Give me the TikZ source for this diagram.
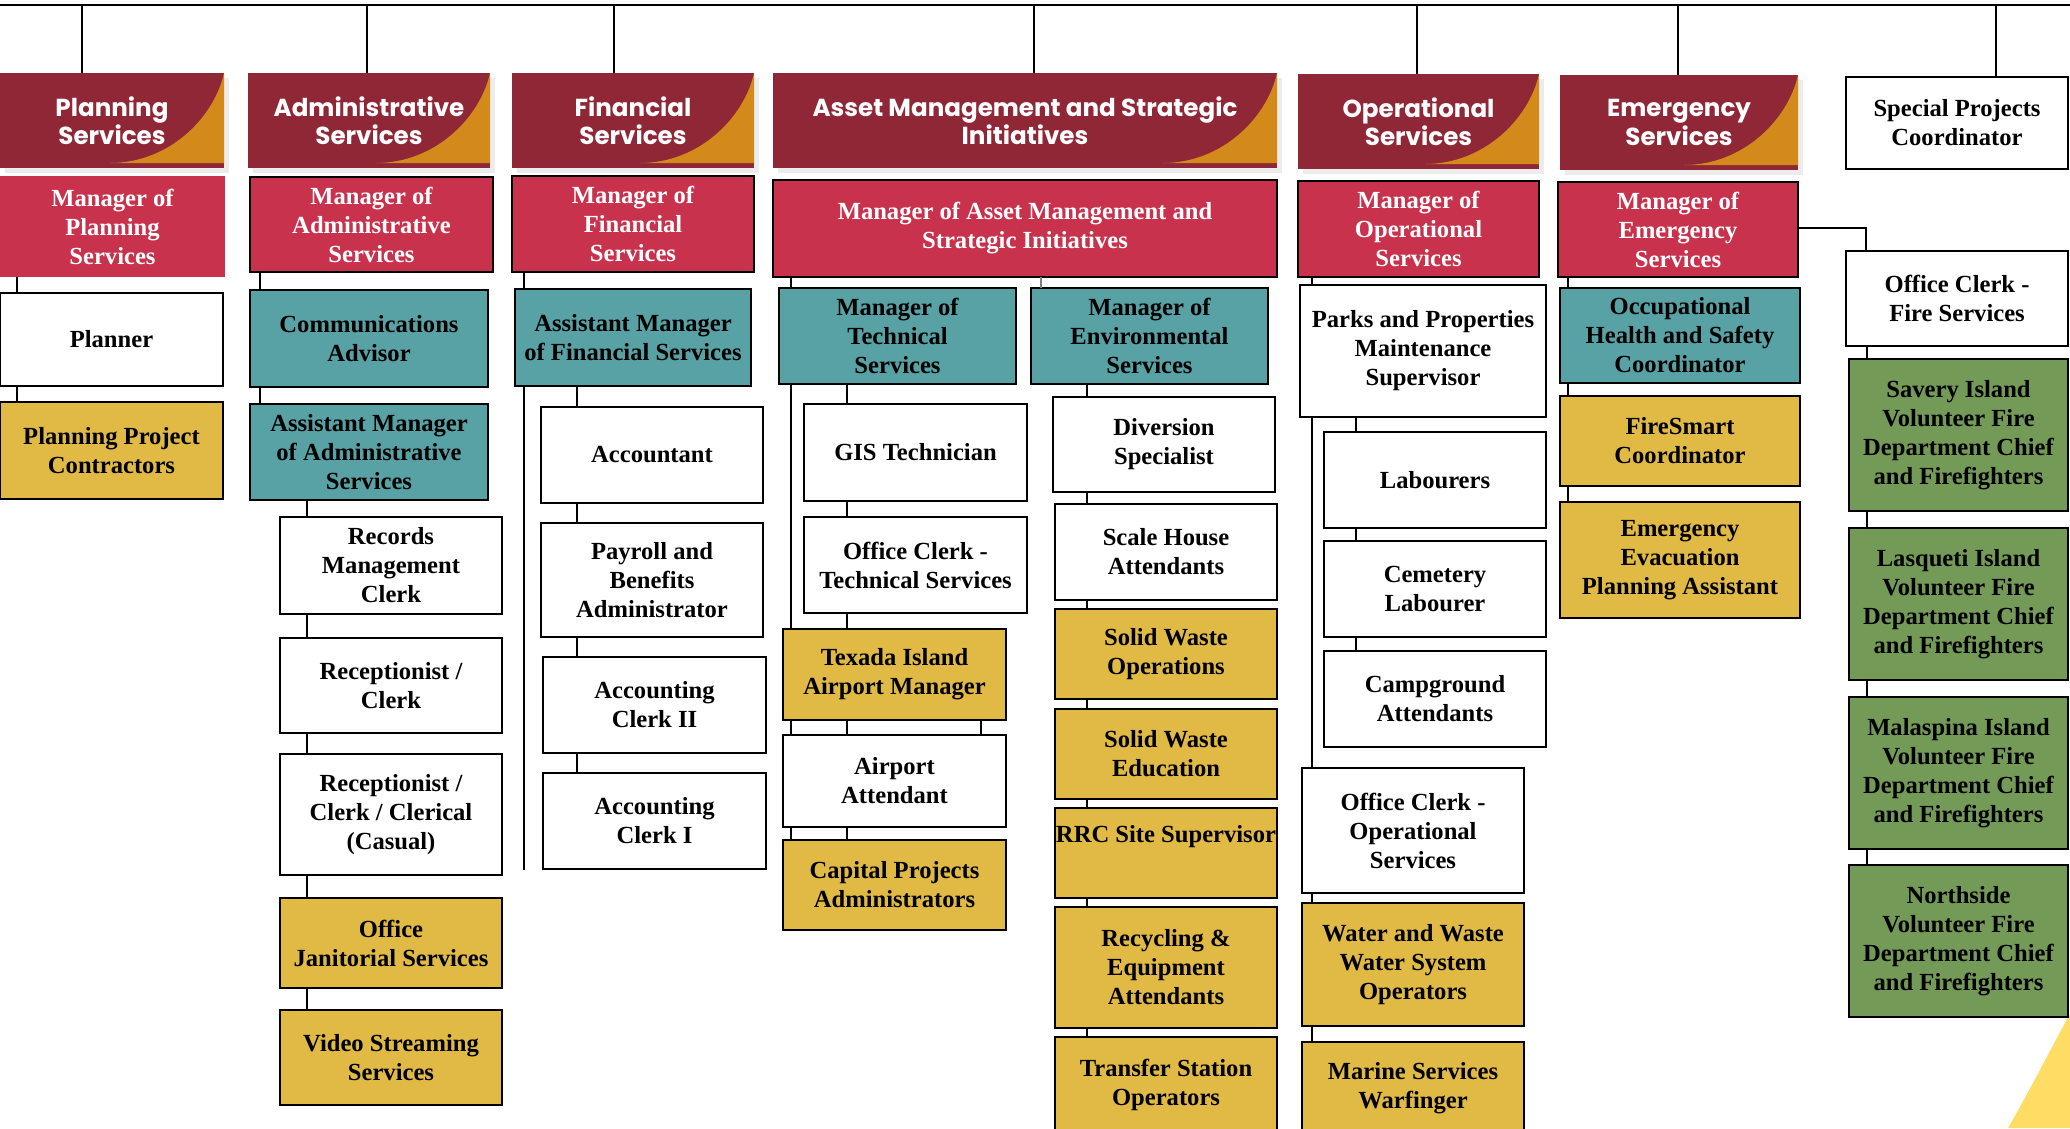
\documentclass[tikz,border=0pt]{standalone}
\usepackage{fontspec}
\setmainfont{Liberation Serif}
\setsansfont{Poppins}
\usepackage{xcolor}
\definecolor{hdrRed}{HTML}{8F2737}
\definecolor{hdrOrange}{HTML}{D38A1A}
\definecolor{mgrRed}{HTML}{C8324C}
\definecolor{teamTeal}{HTML}{58A1A4}
\definecolor{teamGold}{HTML}{E1BA45}
\definecolor{fireGreen}{HTML}{749A57}
\definecolor{cornerYellow}{HTML}{FFDC64}
\usetikzlibrary{shadows}

\tikzset{
  boxat/.style n args={4}{minimum width={(#3-#1)*0.2mm}, minimum height={(#4-#2)*0.2mm},
    at={({(#1+#3)/2},{(#2+#4)/2})}},
  job/.style={rectangle, draw=black, line width=1.4pt, inner sep=0pt, outer sep=0pt, align=center,
    font=\bfseries\fontsize{14}{16.5}\selectfont},
  wbox/.style={job, fill=white},
  tbox/.style={job, fill=teamTeal},
  ybox/.style={job, fill=teamGold},
  gbox/.style={job, fill=fireGreen},
  mgr/.style={job, fill=mgrRed, text=white},
  hdr/.style={rectangle, fill=hdrRed, text=white, inner sep=0pt, outer sep=0pt, align=center,
    font=\sffamily\bfseries\fontsize{14}{16}\selectfont,
    drop shadow={shadow xshift=1mm, shadow yshift=-1mm, opacity=.15},
    path picture={\fill[hdrOrange] (path picture bounding box.north east)
      .. controls ([shift={(-2mm,-9mm)}]path picture bounding box.north east)
      and ([shift={(-11mm,-18mm)}]path picture bounding box.north east)
      .. ([shift={(-22.8mm,-18mm)}]path picture bounding box.north east)
      -- ([yshift=-18mm]path picture bounding box.north east) -- cycle;}},
  conn/.style={draw=black, line width=1.3pt}
}

\begin{document}
\begin{tikzpicture}[x=0.2mm, y=-0.2mm]
  \path[use as bounding box, fill=white] (0,0) rectangle (2070,1128);
  \fill[cornerYellow] (2008,1128) .. controls (2030,1090) and (2050,1050) .. (2072,1010) -- (2072,1128) -- cycle;

  % department headers
  \node[hdr, boxat={0}{73}{224}{168}] (hPlan) {Planning\\Services};
  \node[hdr, boxat={248}{73}{490}{168}] (hAdmin) {Administrative\\Services};
  \node[hdr, boxat={512}{73}{754}{168}] (hFin) {Financial\\Services};
  \node[hdr, boxat={773}{73}{1277}{168}] (hAsset) {Asset Management and Strategic\\Initiatives};
  \node[hdr, boxat={1298}{74}{1539}{169}] (hOper) {Operational\\Services};
  \node[hdr, boxat={1560}{75}{1798}{170}] (hEmer) {Emergency\\Services};
  \node[wbox, boxat={1846}{77}{2068}{169}] (special) {Special Projects\\Coordinator};

  % managers
  \node[mgr, draw=none, boxat={0}{176}{225}{277}] (mPlan) {Manager of\\Planning\\Services};
  \node[mgr, boxat={250}{177}{493}{272}] (mAdmin) {Manager of\\Administrative\\Services};
  \node[mgr, boxat={512}{176}{754}{272}] (mFin) {Manager of\\Financial\\Services};
  \node[mgr, boxat={773}{180}{1277}{277}] (mAsset) {Manager of Asset Management and\\Strategic Initiatives};
  \node[mgr, boxat={1298}{181}{1539}{277}] (mOper) {Manager of\\Operational\\Services};
  \node[mgr, boxat={1558}{182}{1798}{277}] (mEmer) {Manager of\\Emergency\\Services};

  % planning
  \node[wbox, boxat={0}{293}{223}{386}] (planner) {Planner};
  \node[ybox, boxat={0}{402}{223}{499}] (contr) {Planning Project\\Contractors};

  % administrative
  \node[tbox, boxat={250}{290}{488}{387}] (comm) {Communications\\Advisor};
  \node[tbox, boxat={250}{404}{488}{500}] (asstAdm) {Assistant Manager\\of Administrative\\Services};
  \node[wbox, boxat={280}{517}{502}{614}] (records) {Records\\Management\\Clerk};
  \node[wbox, boxat={280}{638}{502}{733}] (recep) {Receptionist /\\Clerk};
  \node[wbox, boxat={280}{754}{502}{875}] (recepCas) {Receptionist /\\Clerk / Clerical\\(Casual)};
  \node[ybox, boxat={280}{898}{502}{988}] (janitor) {Office\\Janitorial Services};
  \node[ybox, boxat={280}{1010}{502}{1105}] (video) {Video Streaming\\Services};

  % financial
  \node[tbox, boxat={515}{289}{751}{386}] (asstFin) {Assistant Manager\\of Financial Services};
  \node[wbox, boxat={541}{407}{763}{503}] (accnt) {Accountant};
  \node[wbox, boxat={541}{523}{763}{637}] (payroll) {Payroll and\\Benefits\\Administrator};
  \node[wbox, boxat={543}{657}{766}{753}] (clerkII) {Accounting\\Clerk II};
  \node[wbox, boxat={543}{773}{766}{869}] (clerkI) {Accounting\\Clerk I};

  % asset management
  \node[tbox, boxat={779}{288}{1016}{384}] (mTech) {Manager of\\Technical\\Services};
  \node[tbox, boxat={1031}{288}{1268}{384}] (mEnv) {Manager of\\Environmental\\Services};
  \node[wbox, boxat={804}{404}{1027}{501}] (gis) {GIS Technician};
  \node[wbox, boxat={804}{517}{1027}{613}] (techClerk) {Office Clerk -\\Technical Services};
  \node[ybox, boxat={783}{629}{1006}{720}] (texada) {Texada Island\\Airport Manager};
  \node[wbox, boxat={783}{735}{1006}{827}] (airAtt) {Airport\\Attendant};
  \node[ybox, boxat={783}{840}{1006}{930}] (capital) {Capital Projects\\Administrators};
  \node[wbox, boxat={1053}{397}{1275}{492}] (divers) {Diversion\\Specialist};
  \node[wbox, boxat={1055}{504}{1277}{600}] (scale) {Scale House\\Attendants};
  \node[ybox, boxat={1055}{609}{1277}{699}] (swOps) {Solid Waste\\Operations};
  \node[ybox, boxat={1055}{709}{1277}{799}] (swEdu) {Solid Waste\\Education};
  \node[ybox, boxat={1055}{808}{1277}{898}] (rrc) {RRC Site Supervisor\\\strut};
  \node[ybox, boxat={1055}{907}{1277}{1028}] (recycl) {Recycling \&\\Equipment\\Attendants};
  \node[ybox, boxat={1055}{1037}{1277}{1132}] (transfer) {Transfer Station\\Operators};

  % operational
  \node[wbox, boxat={1300}{285}{1546}{417}] (parks) {Parks and Properties\\Maintenance\\Supervisor};
  \node[wbox, boxat={1324}{432}{1546}{528}] (labour) {Labourers};
  \node[wbox, boxat={1324}{541}{1546}{637}] (cemetery) {Cemetery\\Labourer};
  \node[wbox, boxat={1324}{651}{1546}{747}] (camp) {Campground\\Attendants};
  \node[wbox, boxat={1302}{768}{1524}{893}] (opClerk) {Office Clerk -\\Operational\\Services};
  \node[ybox, boxat={1302}{903}{1524}{1026}] (water) {Water and Waste\\Water System\\Operators};
  \node[ybox, boxat={1302}{1042}{1524}{1135}] (marine) {Marine Services\\Warfinger};

  % emergency
  \node[tbox, boxat={1560}{288}{1800}{383}] (ohs) {Occupational\\Health and Safety\\Coordinator};
  \node[ybox, boxat={1560}{396}{1800}{486}] (firesmart) {FireSmart\\Coordinator};
  \node[ybox, boxat={1560}{502}{1800}{618}] (evac) {Emergency\\Evacuation\\Planning Assistant};
  \node[wbox, boxat={1846}{251}{2068}{346}] (fireClerk) {Office Clerk -\\Fire Services};
  \node[gbox, boxat={1849}{359}{2068}{511}] (savery) {Savery Island\\Volunteer Fire\\Department Chief\\and Firefighters};
  \node[gbox, boxat={1849}{528}{2068}{680}] (lasqueti) {Lasqueti Island\\Volunteer Fire\\Department Chief\\and Firefighters};
  \node[gbox, boxat={1849}{697}{2068}{849}] (malaspina) {Malaspina Island\\Volunteer Fire\\Department Chief\\and Firefighters};
  \node[gbox, boxat={1849}{865}{2068}{1017}] (northside) {Northside\\Volunteer Fire\\Department Chief\\and Firefighters};

  % top bus and drops
  \coordinate (busL) at (0,5);
  \coordinate (busR) at (2070,5);
  \draw[conn] (busL) -- (busR);
  \coordinate (d1) at (82,5);
  \coordinate (d2) at (367,5);
  \coordinate (d3) at (614,5);
  \coordinate (d4) at (1034,5);
  \coordinate (d5) at (1417,5);
  \coordinate (d6) at (1678,5);
  \coordinate (d7) at (1996,5);
  \draw[conn] (d1) -- (d1 |- hPlan.north) (d2) -- (d2 |- hAdmin.north) (d3) -- (d3 |- hFin.north)
    (d4) -- (d4 |- hAsset.north) (d5) -- (d5 |- hOper.north) (d6) -- (d6 |- hEmer.north)
    (d7) -- (d7 |- special.north);

  % rails
  \coordinate (rPlan) at (17,0);
  \coordinate (rAdm) at (260,0);
  \coordinate (rAdm2) at (307,0);
  \coordinate (rFin) at (524,0);
  \coordinate (rFin2) at (577,0);
  \coordinate (finEnd) at (524,870);
  \coordinate (rTec) at (791,0);
  \coordinate (rTec2) at (847,0);
  \coordinate (rTec3) at (981,0);
  \coordinate (rEnv) at (1041,0);
  \coordinate (rEnv2) at (1087,0);
  \coordinate (rOp) at (1312,0);
  \coordinate (rOp2) at (1356,0);
  \coordinate (rEm) at (1568,0);
  \coordinate (rFire) at (1867,0);
  \coordinate (fireTurn) at (1866,228);

  \draw[conn] (mPlan.south -| rPlan) -- (planner.north -| rPlan) (planner.south -| rPlan) -- (contr.north -| rPlan);
  \draw[conn] (mAdmin.south -| rAdm) -- (comm.north -| rAdm) (comm.south -| rAdm) -- (asstAdm.north -| rAdm);
  \draw[conn] (asstAdm.south -| rAdm2) -- (records.north -| rAdm2) (records.south -| rAdm2) -- (recep.north -| rAdm2)
    (recep.south -| rAdm2) -- (recepCas.north -| rAdm2) (recepCas.south -| rAdm2) -- (janitor.north -| rAdm2)
    (janitor.south -| rAdm2) -- (video.north -| rAdm2);
  \draw[conn] (mFin.south -| rFin) -- (asstFin.north -| rFin) (asstFin.south -| rFin) -- (finEnd);
  \draw[conn] (asstFin.south -| rFin2) -- (accnt.north -| rFin2) (accnt.south -| rFin2) -- (payroll.north -| rFin2)
    (payroll.south -| rFin2) -- (clerkII.north -| rFin2) (clerkII.south -| rFin2) -- (clerkI.north -| rFin2);
  \draw[conn] (mAsset.south -| rTec) -- (mTech.north -| rTec) (mTech.south -| rTec) -- (texada.north -| rTec)
    (texada.south -| rTec) -- (airAtt.north -| rTec) (airAtt.south -| rTec) -- (capital.north -| rTec);
  \draw[conn] (mTech.south -| rTec2) -- (gis.north -| rTec2) (gis.south -| rTec2) -- (techClerk.north -| rTec2)
    (techClerk.south -| rTec2) -- (texada.north -| rTec2) (texada.south -| rTec2) -- (airAtt.north -| rTec2)
    (airAtt.south -| rTec2) -- (capital.north -| rTec2);
  \draw[conn] (texada.south -| rTec3) -- (airAtt.north -| rTec3);
  \draw[conn, draw=gray, line width=0.7pt] (mAsset.south -| rEnv) -- (mEnv.north -| rEnv);
  \draw[conn] (mEnv.south -| rEnv2) -- (divers.north -| rEnv2) (divers.south -| rEnv2) -- (scale.north -| rEnv2)
    (scale.south -| rEnv2) -- (swOps.north -| rEnv2) (swOps.south -| rEnv2) -- (swEdu.north -| rEnv2)
    (swEdu.south -| rEnv2) -- (rrc.north -| rEnv2) (rrc.south -| rEnv2) -- (recycl.north -| rEnv2)
    (recycl.south -| rEnv2) -- (transfer.north -| rEnv2);
  \draw[conn] (mOper.south -| rOp) -- (parks.north -| rOp) (parks.south -| rOp) -- (opClerk.north -| rOp)
    (opClerk.south -| rOp) -- (water.north -| rOp) (water.south -| rOp) -- (marine.north -| rOp);
  \draw[conn] (parks.south -| rOp2) -- (labour.north -| rOp2) (labour.south -| rOp2) -- (cemetery.north -| rOp2)
    (cemetery.south -| rOp2) -- (camp.north -| rOp2);
  \draw[conn] (mEmer.south -| rEm) -- (ohs.north -| rEm) (ohs.south -| rEm) -- (firesmart.north -| rEm)
    (firesmart.south -| rEm) -- (evac.north -| rEm);
  \draw[conn] (mEmer.east |- fireTurn) -- (fireTurn) -- (fireClerk.north -| fireTurn);
  \draw[conn] (fireClerk.south -| rFire) -- (savery.north -| rFire) (savery.south -| rFire) -- (lasqueti.north -| rFire)
    (lasqueti.south -| rFire) -- (malaspina.north -| rFire) (malaspina.south -| rFire) -- (northside.north -| rFire);
\end{tikzpicture}
\end{document}
